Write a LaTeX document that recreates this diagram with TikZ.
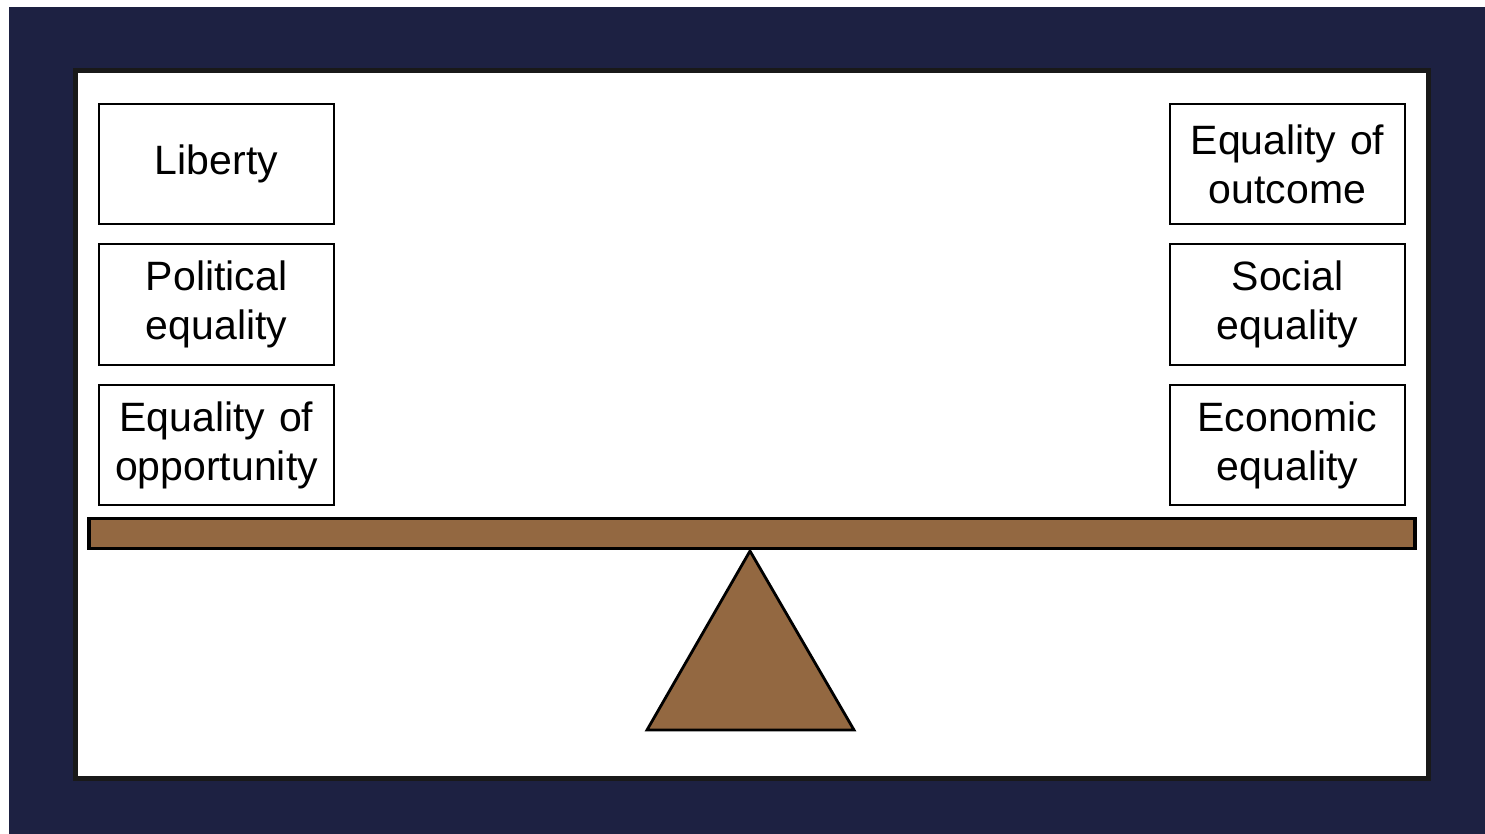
\documentclass[tikz,border=0pt]{standalone}
\usepackage{fontspec}
\setmainfont{Liberation Sans}
\definecolor{navy}{HTML}{1D2142}
\definecolor{wood}{HTML}{936841}
\begin{document}
\begin{tikzpicture}[x=1pt,y=-1pt,
  valuebox/.style={draw=black, line width=2pt, fill=white, minimum width=235pt, minimum height=120pt, text width=225pt, align=center, inner sep=0pt, font=\fontsize{41pt}{49pt}\selectfont}]
\useasboundingbox (0,0) rectangle (1485,834);
\fill[white] (0,0) rectangle (1485,834);
\fill[navy] (9,7) rectangle (1485,834);
\draw[line width=4.5pt, draw=black!90, fill=white] (75.5,70.5) rectangle (1428.5,778.5);
\node[valuebox] (lib) at (216.5,164) {Liberty};
\node[valuebox] (pol) at (216.5,304.5) {Political\\equality};
\node[valuebox] (opp) at (216.5,445) {Equality of\\opportunity};
\node[valuebox] (out) at (1287.5,164) {Equality of\\outcome};
\node[valuebox] (soc) at (1287.5,304.5) {Social\\equality};
\node[valuebox] (eco) at (1287.5,445) {Economic\\equality};
\draw[line width=3.5pt, fill=wood] (89,518.5) rectangle (1415,548.5);
\coordinate (apex) at (750,551);
\draw[line width=2.8pt, fill=wood, line join=miter] (apex) -- (854,730) -- (647,730) -- cycle;
\end{tikzpicture}
\end{document}
